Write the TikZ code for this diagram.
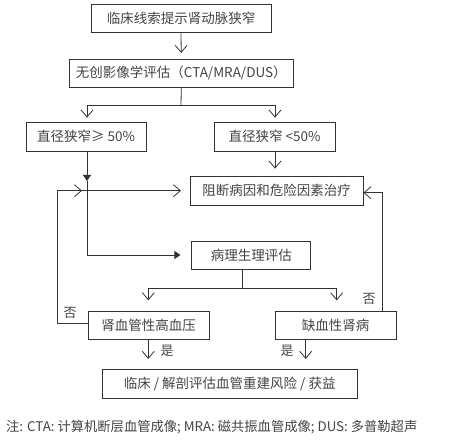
\documentclass[tikz,border=0pt]{standalone}
\usepackage{fontspec}
\setmainfont{Noto Sans CJK SC}
\usetikzlibrary{arrows.meta}
\definecolor{ln}{HTML}{333333}
\definecolor{tx}{HTML}{444444}
\tikzset{
  box/.style={draw=ln, line width=0.8pt, inner sep=0pt, text=tx, font=\fontsize{13.5}{15}\selectfont},
  conn/.style={draw=ln, line width=0.8pt},
  oarr/.style={-{Straight Barb[length=7pt,width=12pt,line width=0.8pt]}},
  farr/.style={-{Triangle[length=6pt,width=8pt]}},
  lbl/.style={text=tx, font=\fontsize{13}{15}\selectfont, inner sep=0pt}
}
\begin{document}
\begin{tikzpicture}[x=1pt,y=1pt]
\useasboundingbox[fill=white] (0,0) rectangle (456,-443);
\node[box, minimum width=180pt, minimum height=28pt] (b1) at (181,-18.3) {临床线索提示肾动脉狭窄};
\node[box, minimum width=224pt, minimum height=28pt] (b2) at (181.3,-73.3) {无创影像学评估（CTA/MRA/DUS）};
\node[box, minimum width=120pt, minimum height=29pt] (b3) at (86,-136.5) {直径狭窄≥ 50\%};
\node[box, minimum width=121pt, minimum height=29pt] (b4) at (274.5,-136.5) {直径狭窄 <50\%};
\node[box, minimum width=173pt, minimum height=29pt] (b5) at (276.5,-190.5) {阻断病因和危险因素治疗};
\node[box, minimum width=119pt, minimum height=28pt] (b6) at (251.3,-255) {病理生理评估};
\node[box, minimum width=121pt, minimum height=27.6pt] (b7) at (148.5,-325.5) {肾血管性高血压};
\node[box, minimum width=121pt, minimum height=27.6pt] (b8) at (335.5,-325.5) {缺血性肾病};
\node[box, minimum width=255pt, minimum height=29pt] (b9) at (229.7,-383.8) {临床 / 解剖评估血管重建风险 / 获益};

% b1 -> b2
\draw[conn, oarr, shorten >=6pt] (b1.south) -- (b2.north);
% b2 split
\coordinate (s2) at (181,-105);
\coordinate (s2l) at (87,-105);
\coordinate (s2r) at (275,-105);
\draw[conn] (b2.south) -- (s2);
\draw[conn] (s2l) -- (s2r);
\draw[conn, oarr, shorten >=4pt] (s2l) -- (s2l |- b3.north);
\draw[conn, oarr, shorten >=4pt] (s2r) -- (s2r |- b4.north);
% b4 -> b5
\draw[conn, oarr, shorten >=7pt] (b4.south -| s2r) -- (s2r |- b5.north);
% left trunk
\coordinate (m1) at (87,-181);
\coordinate (c1) at (87,-255);
\draw[conn, farr] (b3.south -| s2l) -- (m1);
\draw[conn] (m1) -- (c1);
\draw[conn, farr, shorten >=11pt] (c1) -- (b6.west);
% horizontal to b5
\coordinate (l1) at (57,-190.7);
\coordinate (a1) at (82,-190.7);
\coordinate (a2) at (181,-190.7);
\draw[conn, oarr] (l1) -- (a1);
\draw[conn, oarr] (a1) -- (a2);
% left loop from b7
\coordinate (l2) at (57,-323.7);
\draw[conn] (b7.west |- l2) -- (l2) -- (l1);
\node[lbl] (n1) at (70,-312.5) {否};
% b6 split
\coordinate (s6) at (242,-288.3);
\coordinate (s6l) at (148.3,-288.3);
\coordinate (s6r) at (336.7,-288.3);
\draw[conn] (b6.south -| s6) -- (s6);
\draw[conn] (s6l) -- (s6r);
\draw[conn, oarr, shorten >=11pt] (s6l) -- (s6l |- b7.north);
\draw[conn, oarr, shorten >=11pt] (s6r) -- (s6r |- b8.north);
% right loop from b8
\coordinate (r1) at (382,-311.7);
\coordinate (r2) at (382,-192.7);
\draw[conn, oarr] (r1) -- (r2) -- (b5.east |- r2);
\node[lbl] (n2) at (369,-299) {否};
% yes arrows
\coordinate (y1) at (148.3,-339.3);
\coordinate (y2) at (305.7,-339.3);
\draw[conn, oarr, shorten >=10pt] (y1) -- (y1 |- b9.north);
\draw[conn, oarr, shorten >=10pt] (y2) -- (y2 |- b9.north);
\node[lbl] (n3) at (167,-351) {是};
\node[lbl] (n4) at (287,-351) {是};
% footnote
\node[lbl, anchor=west, font=\fontsize{13.3}{15}\selectfont] (fn) at (6,-427.3) {注: CTA: 计算机断层血管成像; MRA: 磁共振血管成像; DUS: 多普勒超声};
\end{tikzpicture}
\end{document}
